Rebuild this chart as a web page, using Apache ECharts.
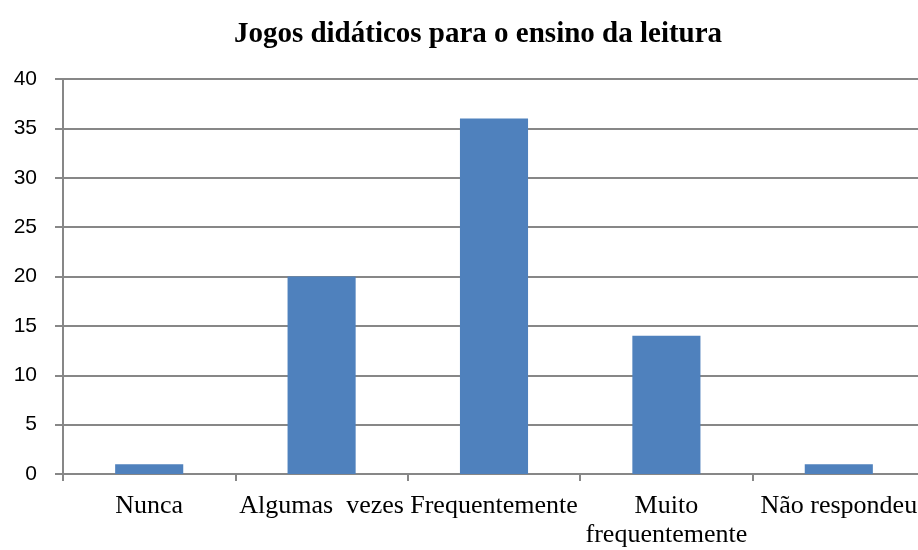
<!DOCTYPE html>
<html>
<head>
<meta charset="utf-8">
<script src="https://cdn.jsdelivr.net/npm/echarts@6/dist/echarts.min.js"></script>
<style>
  html, body { margin: 0; padding: 0; background: #fff; overflow: hidden; }
  #chart { width: 918px; height: 550px; }
</style>
</head>
<body>
<div id="chart"></div>
<script>
const titleText = 'Jogos didáticos para o ensino da leitura'
const categories = ['Nunca', 'Algumas  vezes', 'Frequentemente', 'Muito\nfrequentemente', 'Não respondeu']
const values = [1, 20, 36, 14, 1]
const yMin = 0
const yMax = 40
const yStep = 5

const gray = '#878787'
const chart = echarts.init(document.getElementById('chart'))
chart.setOption({
  animation: false,
  title: {
    text: titleText,
    left: 473,
    top: 15,
    textAlign: 'center',
    textStyle: {
      fontFamily: 'Liberation Serif',
      fontWeight: 'bold',
      fontSize: 29,
      color: '#000'
    }
  },
  // plot area runs slightly past the right edge, like the cropped original
  grid: {
    left: 63,
    width: 862,
    top: 79,
    bottom: 76,
    outerBoundsMode: 'none'
  },
  xAxis: {
    type: 'category',
    data: categories,
    boundaryGap: true,
    axisLine: { lineStyle: { color: gray, width: 2 } },
    axisTick: { show: true, alignWithLabel: false, length: 7, lineStyle: { color: gray, width: 2 } },
    axisLabel: {
      interval: 0,
      margin: 18,
      fontFamily: 'Liberation Serif',
      fontSize: 26,
      lineHeight: 29,
      color: '#000',
      overflow: 'none'
    }
  },
  yAxis: {
    type: 'value',
    min: yMin,
    max: yMax,
    interval: yStep,
    axisLine: { show: true, lineStyle: { color: gray, width: 2 } },
    axisTick: { show: true, length: 8, lineStyle: { color: gray, width: 2 } },
    axisLabel: {
      margin: 26,
      fontFamily: 'Liberation Sans',
      fontSize: 21,
      color: '#000'
    },
    splitLine: { show: true, lineStyle: { color: gray, width: 2 } }
  },
  series: [{
    type: 'bar',
    data: values,
    barWidth: '39.5%',
    itemStyle: { color: '#4F81BD' }
  }]
})
</script>
</body>
</html>
